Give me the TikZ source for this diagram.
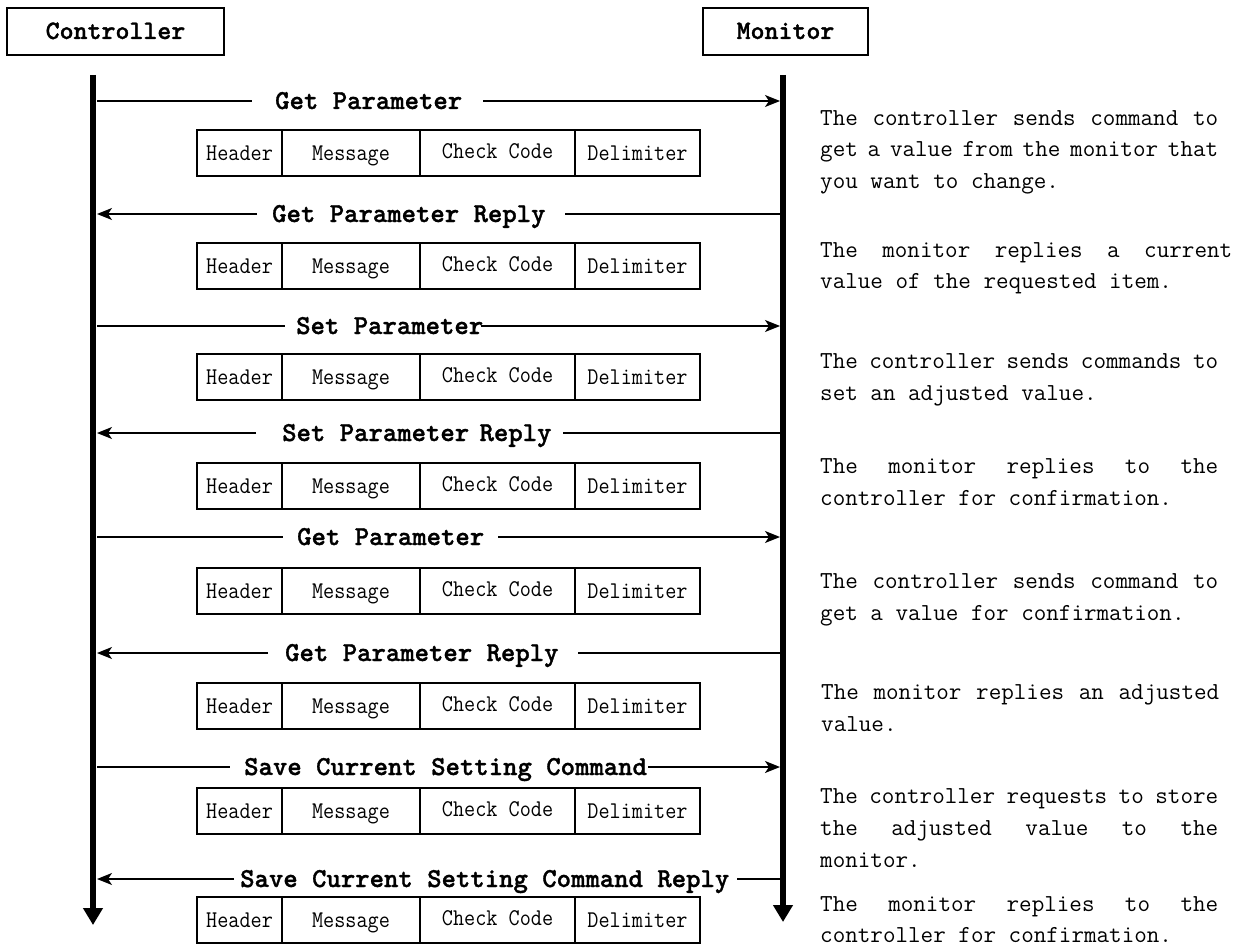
\documentclass[tikz,border=0pt]{standalone}
\usepackage{fontspec}
\usepackage{graphicx}
\usetikzlibrary{arrows.meta}
\newfontfamily\heavymono{lmmonolt10-bold}[Extension=.otf,FakeBold=1.2]
\newcommand\lbfont{\heavymono\fontsize{27.4}{30}\selectfont}
\newcommand\actfont{\heavymono\fontsize{26.6}{30}\selectfont}
\newcommand\cellfont{\ttfamily\fontsize{24}{28}\selectfont}
\newcommand\descfont{\ttfamily\fontsize{24.4}{28}\selectfont\fontdimen3\font=10pt\fontdimen4\font=6pt}
\newcommand\jl[2][398pt]{\makebox[#1][s]{#2}}
\newcommand\cw[1]{\scalebox{0.9}[1]{#1}}
\begin{document}
\begin{tikzpicture}[x=1pt,y=-1pt,
  actor/.style={draw,line width=1.5pt,minimum width=#1,minimum height=47pt,inner sep=0pt,
    text height=15pt,text depth=0pt,font=\actfont},
  cell/.style={draw,line width=1.8pt,minimum width=#1,minimum height=46pt,inner sep=0pt,
    text height=15pt,text depth=0pt,font=\cellfont},
  lbl/.style={inner sep=0pt,anchor=base west,font=\lbfont},
  desc/.style={inner sep=0pt,anchor=base west,font=\descfont},
  msg/.style={line width=1.5pt},
  thick seg/.style={line width=2.6pt},
  tip/.style={-{Stealth[length=15pt,width=12pt,inset=4pt]}},
  life/.style={line width=6pt,-{Triangle[length=17pt,width=19pt]}}
]
\useasboundingbox (0,0) rectangle (1250,947);

% actors
\node[actor=217pt] (ctrl) at (115.5,31.5) {Controller};
\node[actor=165pt] (mon) at (785.5,31.5) {Monitor};

% lifelines
\coordinate (ctop) at (93,75);
\coordinate (cbot) at (93,925);
\coordinate (mtop) at (783,75);
\coordinate (mbot) at (783,922);
\draw[life] (ctop) -- (cbot);
\draw[life] (mtop) -- (mbot);

% packet boxes
\foreach \r/\t in {1/130,2/243,3/354,4/463,5/568,6/683,7/788,8/897}{
  \node[cell=85pt]  (h\r) at (239.5,\t+23) {\cw{Header}};
  \node[cell=138pt] (g\r) at (351,\t+23) {\cw{Message}};
  \node[cell=155pt] (k\r) at (497.5,\t+23) {\raisebox{2pt}{\cw{Check Code}}};
  \node[cell=125pt] (d\r) at (637.5,\t+23) {\cw{Delimiter}};
}

% message rows: lifeline points and gap points
\foreach \r/\y/\a/\b in {1/101/252/483,2/214/257/565,3/326/285/481,4/433/256/563,
                          5/537/283/498,6/653/268/578,7/767/230/648,8/879/234/737}{
  \coordinate (c\r) at (97,\y);
  \coordinate (m\r) at (780,\y);
  \coordinate (a\r) at (\a,\y);
  \coordinate (b\r) at (\b,\y);
}

% labels
\node[lbl] (l1) at (275,109) {Get Parameter};
\node[lbl] (l2) at (272,222) {Get Parameter Reply};
\node[lbl] (l3) at (296,334) {Set Parameter};
\node[lbl] (l4) at (282,441) {Set Parameter\hspace{-4pt} Reply};
\node[lbl] (l5) at (297,545) {Get Parameter};
\node[lbl] (l6) at (285,661) {Get Parameter Reply};
\node[lbl] (l7) at (244,775) {Save Current Setting Command};
\node[lbl] (l8) at (240,887) {Save Current Setting Command Reply};

% arrows controller -> monitor
\draw[msg] (c1) -- (a1); \draw[msg,tip] (b1) -- (m1);
\draw[msg] (c3) -- (a3); \draw[msg,tip] (b3) -- (m3);
\draw[msg] (c5) -- (a5); \draw[msg,tip] (b5) -- (m5);
\draw[thick seg] (c7) -- (a7); \draw[msg,tip] (b7) -- (m7);
% arrows monitor -> controller
\draw[msg] (m2) -- (b2); \draw[msg,tip] (a2) -- (c2);
\draw[thick seg] (m4) -- (b4); \draw[msg,tip] (a4) -- (c4);
\draw[thick seg] (m6) -- (b6); \draw[msg,tip] (a6) -- (c6);
\draw[msg] (m8) -- (b8); \draw[msg,tip] (a8) -- (c8);

% descriptions
\node[desc] (t11) at (820,126) {\jl{The controller sends command to}};
\node[desc] (t12) at (820,157) {\jl{get a value from the monitor that}};
\node[desc] (t13) at (820,188) {you want to change.};

\node[desc] (t21) at (820,257) {\jl[412pt]{The monitor replies a current}};
\node[desc] (t22) at (820,288) {value of the requested item.};

\node[desc] (t31) at (820,368) {\jl{The controller sends commands to}};
\node[desc] (t32) at (820,400) {set an adjusted value.};

\node[desc] (t41) at (820,473) {\jl{The monitor replies to the}};
\node[desc] (t42) at (820,505) {controller for confirmation.};

\node[desc] (t51) at (820,588) {\jl{The controller sends command to}};
\node[desc] (t52) at (820,620) {get a value for confirmation.};

\node[desc] (t61) at (821,699) {\jl{The monitor replies an adjusted}};
\node[desc] (t62) at (821,731) {value.};

\node[desc] (t71) at (820,803) {\jl{The controller requests to store}};
\node[desc] (t72) at (820,835) {\jl{the adjusted value to the}};
\node[desc] (t73) at (820,867) {monitor.};

\node[desc] (t81) at (820,911) {\jl{The monitor replies to the}};
\node[desc] (t82) at (820,942) {controller for confirmation.};
\end{tikzpicture}
\end{document}
